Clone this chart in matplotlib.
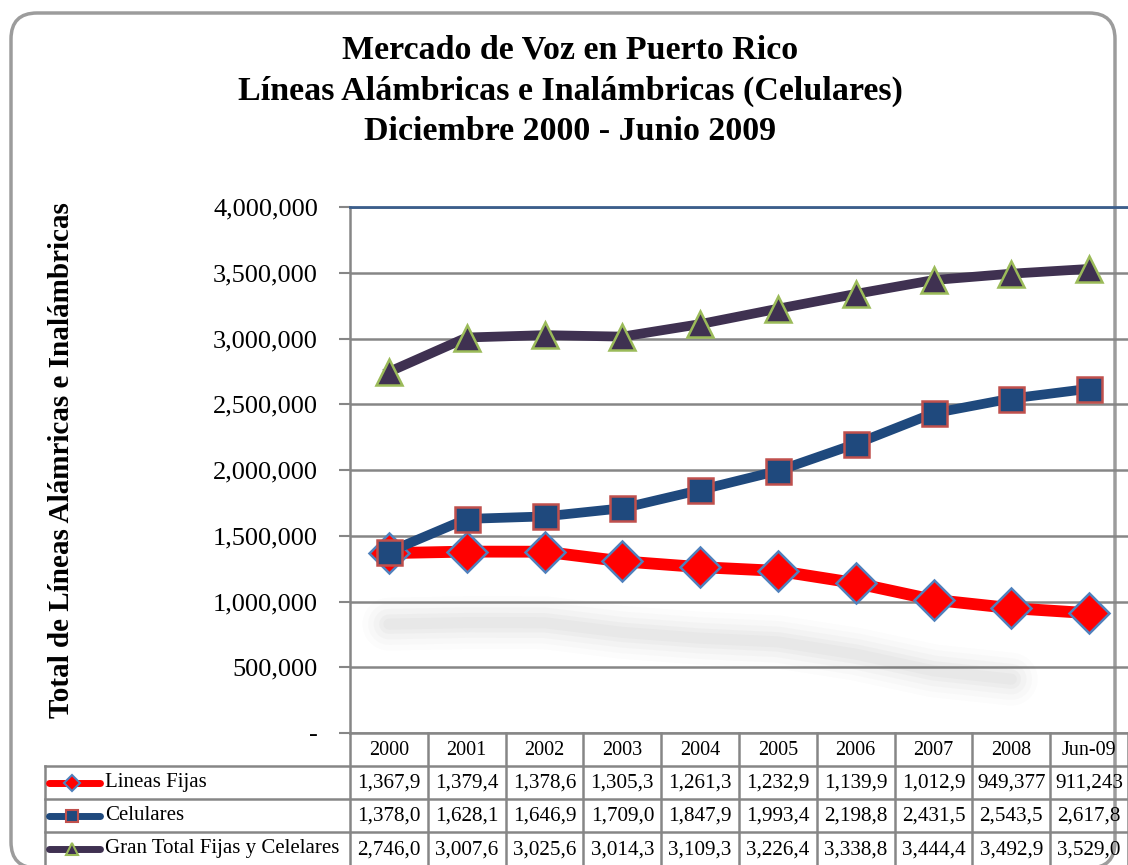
import numpy as np
import matplotlib.pyplot as plt
from matplotlib.patches import FancyBboxPatch
from matplotlib.lines import Line2D

years = ['2000', '2001', '2002', '2003', '2004', '2005', '2006', '2007', '2008', 'Jun-09']
fijas = [1367900, 1379400, 1378600, 1305300, 1261300, 1232900, 1139900, 1012900, 949377, 911243]
celulares = [1378000, 1628100, 1646900, 1709000, 1847900, 1993400, 2198800, 2431500, 2543500, 2617800]
total = [2746000, 3007600, 3025600, 3014300, 3109300, 3226400, 3338800, 3444400, 3492900, 3529000]
names = ['Lineas Fijas', 'Celulares', 'Gran Total Fijas y Celelares']
yticks = [0, 500000, 1000000, 1500000, 2000000, 2500000, 3000000, 3500000, 4000000]

plt.rcParams['font.family'] = ['Liberation Serif', 'DejaVu Serif']

W, H = 1128, 865
fig = plt.figure(figsize=(W / 100, H / 100), dpi=100)

# fondo con marco redondeado (coordenadas en pixeles)
bg = fig.add_axes([0, 0, 1, 1])
bg.set_xlim(0, W)
bg.set_ylim(H, 0)
bg.axis('off')
bg.add_patch(FancyBboxPatch((11, 13), W - 24, H - 10, boxstyle='round,pad=0,rounding_size=26',
                            fc='white', ec='#9c9c9c', lw=2.5, zorder=0))

# estilos de las series
styles = [
    dict(color='#ff0000', lw=8.5, marker='D', ms=20, mfc='#ff0000', mec='#4f81bd', mew=1.8),
    dict(color='#1f497d', lw=7, marker='s', ms=18, mfc='#1f497d', mec='#c0504d', mew=1.8),
    dict(color='#3f3151', lw=7, marker='^', ms=19, mfc='#3f3151', mec='#9bbb59', mew=1.8),
]
data = [fijas, celulares, total]

# area del grafico
L, R, T, B = 350, 1128, 207, 733
ax = fig.add_axes([L / W, (H - B) / H, (R - L) / W, (B - T) / H])
ax.patch.set_alpha(0)
x = np.arange(len(years))
ax.set_xlim(-0.5, len(years) - 0.5)
ax.set_ylim(0, 4000000)
ax.set_yticks(yticks)
ax.set_yticklabels(['-' if v == 0 else f'{v:,}' for v in yticks], fontsize=19)
ax.set_xticks([])
ax.tick_params(axis='y', length=8, width=1.5, color='#868686', pad=15)
for s in ['right', 'bottom']:
    ax.spines[s].set_visible(False)
ax.spines['left'].set_color('#868686')
ax.spines['left'].set_linewidth(1.8)
ax.spines['top'].set_color('#3b5e8c')
ax.spines['top'].set_linewidth(2)
ax.grid(axis='y', color='#868686', lw=1.8)
ax.set_axisbelow(True)

# sombra debajo de la linea roja
shadow = np.array(fijas) - 540000
for lw, a in [(38, 0.02), (30, 0.025), (22, 0.03), (14, 0.04), (8, 0.04)]:
    ax.plot(x[:-1], shadow[:-1], color='#707070', lw=lw, alpha=a, solid_capstyle='round', zorder=1)

for vals, st in zip(data, styles):
    ax.plot(x, vals, zorder=3, **st)

# titulo
fig.text(570 / W, 1 - 50 / H, 'Mercado de Voz en Puerto Rico', ha='center', va='center',
         fontsize=24.5, fontweight='bold')
fig.text(570 / W, 1 - 91 / H, 'Líneas Alámbricas e Inalámbricas (Celulares)', ha='center', va='center',
         fontsize=24.5, fontweight='bold')
fig.text(570 / W, 1 - 131 / H, 'Diciembre 2000 - Junio 2009', ha='center', va='center',
         fontsize=24.5, fontweight='bold')
fig.text(62 / W, 1 - 460 / H, 'Total de Líneas Alámricas e Inalámbricas', rotation=90,
         ha='center', va='center', fontsize=21, fontweight='bold')

# tabla de datos
cw = (R - L) / len(years)
edges = [L + i * cw for i in range(len(years) + 1)]
rows = [733, 766, 799, 832, 866]
gc = '#868686'
for e in edges:
    bg.plot([e, e], [rows[0], rows[-1]], color=gc, lw=1.8, zorder=1)
bg.plot([45, 45], [rows[1], rows[-1]], color=gc, lw=1.8, zorder=1)
for r in rows[1:-1]:
    bg.plot([45, R], [r, r], color=gc, lw=1.8, zorder=1)
bg.plot([L, R], [rows[0], rows[0]], color=gc, lw=1.8, zorder=1)

for i, yr in enumerate(years):
    bg.text(edges[i] + cw / 2, (rows[0] + rows[1]) / 2 + 1, yr, ha='center', va='center', fontsize=14.5)
for j, (vals, st, nm) in enumerate(zip(data, styles, names)):
    yc = (rows[j + 1] + rows[j + 2]) / 2
    for i, v in enumerate(vals):
        bg.text(edges[i] + cw / 2, yc + 1, f'{v:,}'[:7], ha='center', va='center', fontsize=15.2)
    bg.add_line(Line2D([49, 100], [yc, yc], color=st['color'], lw=5, solid_capstyle='round', zorder=2))
    bg.add_line(Line2D([72], [yc], marker=st['marker'], ms=8, mfc=st['mfc'], mec=st['mec'], mew=1.5, zorder=3))
    bg.text(105, yc, nm, ha='left', va='center', fontsize=15)

fig.savefig('out.png', dpi=100)
